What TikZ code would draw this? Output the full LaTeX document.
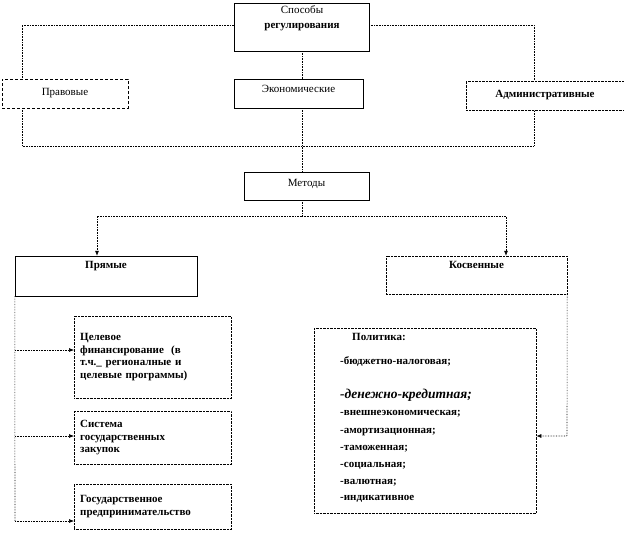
\documentclass[tikz,border=0pt]{standalone}
\usepackage{fontspec}
\setmainfont{Liberation Serif}
\usetikzlibrary{arrows.meta}
\begin{document}
\begin{tikzpicture}[x=1pt,y=-1pt,
  box/.style={draw,thin,inner sep=0,minimum width=#1},
  box/.default=100pt,
  con/.style={densely dotted,line width=0.6pt},
  arr/.style={con,-{Latex[length=5pt,width=4pt]}},
  lbl/.style={font=\fontsize{11}{12}\selectfont,inner sep=0},
  blbl/.style={font=\fontsize{11}{12.5}\selectfont\bfseries,inner sep=0,align=left}]
\useasboundingbox (0,0) rectangle (624,533);
% boxes
\node[box=135pt,minimum height=48pt] (spos) at (301.5,27) {};
\node[lbl] (s1) at (302,10) {Способы};
\node[blbl] (s2) at (302,27) {регулирования};
\node[box=126pt,minimum height=29pt,densely dashed,lbl] (prav) at (65,93.5) {Правовые};
\node[box=129pt,minimum height=29pt,lbl,text depth=10pt] (econ) at (298.5,93.5) {Экономические};
\node[box=158pt,minimum height=29pt,densely dotted,blbl] (adm) at (545,95.5) {Административные};
\node[box=125pt,minimum height=28pt,lbl,text depth=6pt] (met) at (306.5,186) {Методы};
\node[box=182pt,minimum height=40pt,blbl,text depth=22pt] (pryam) at (106,276) {Прямые};
\node[box=181pt,minimum height=38pt,densely dotted,blbl,text depth=20pt] (kosv) at (476.5,275) {Косвенные};
\node[box=157pt,minimum height=82pt,densely dotted,blbl,text width=145pt,anchor=north west,inner xsep=6pt,inner ysep=2pt] (tsel) at (74,316)
  {Целевое\\финансирование\ \ (в\\т.ч.\_ регионалные и\\целевые программы)\\[6pt]};
\node[box=157pt,minimum height=53pt,densely dotted,blbl,text width=145pt,anchor=north west,inner xsep=6pt,inner ysep=2pt] (sist) at (74,411)
  {Система\\государственных\\закупок\\[2pt]};
\node[box=157pt,minimum height=45pt,densely dotted,blbl,text width=145pt,anchor=north west,inner xsep=6pt,inner ysep=2pt] (gos) at (74,484)
  {Государственное\\предпринимательство\\[4pt]};
\node[box=222pt,minimum height=185pt,densely dotted,anchor=north west] (pol) at (314,328) {};
\begin{scope}[every node/.style={blbl,anchor=west}]
\node (p1) at (352,337) {Политика:};
\node (p2) at (340,362) {-бюджетно-налоговая;};
\node[font=\fontsize{13.5}{14}\selectfont\bfseries\itshape] (p3) at (340,395) {-денежно-кредитная;};
\node (p4) at (340,414) {-внешнеэкономическая;};
\node (p5) at (340,432) {-амортизационная;};
\node (p6) at (340,449) {-таможенная;};
\node (p7) at (340,466) {-социальная;};
\node (p8) at (340,483) {-валютная;};
\node (p9) at (340,499) {-индикативное};
\end{scope}
% connectors
\coordinate (tl) at (22,25); \coordinate (tr) at (534,25);
\draw[con] (spos.west |- tl) -- (tl) -- (tl |- prav.north);
\draw[con] (spos.east |- tr) -- (tr) -- (tr |- adm.north);
\draw[con] (spos.south -| 302,0) -- (econ.north -| 302,0);
\coordinate (bl) at (22,146); \coordinate (br) at (534,146);
\draw[con] (prav.south -| bl) -- (bl) -- (br) -- (adm.south -| br);
\draw[con] (econ.south -| 302,0) -- (met.north -| 302,0);
\coordinate (hm) at (302,216);
\draw[con] (met.south -| hm) -- (hm);
\draw[arr] (hm) -| (pryam.north -| 97,0);
\draw[arr] (hm) -| (kosv.north -| 506,0);
\coordinate (lv) at (15,521);
\draw[con] (pryam.south west) -- (lv);
\draw[arr] (15,350) -- (tsel.west |- 15,350);
\draw[arr] (15,436) -- (sist.west |- 15,436);
\draw[arr] (lv) -- (gos.west |- lv);
\coordinate (rv) at (567,436);
\draw[arr] (kosv.south east) -- (rv) -- (pol.east |- rv);
\end{tikzpicture}
\end{document}
